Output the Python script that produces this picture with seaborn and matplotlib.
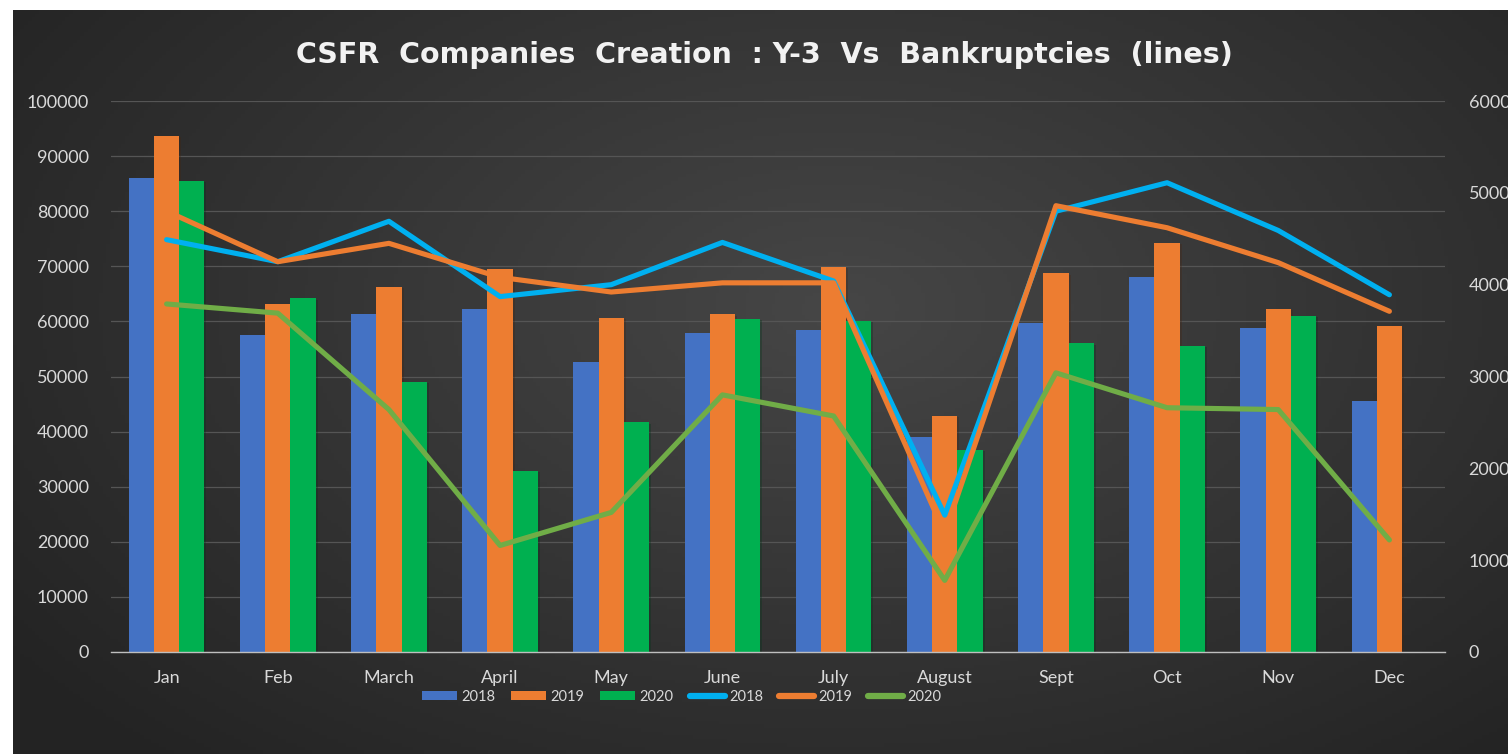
import numpy as np
import pandas as pd
import matplotlib
matplotlib.use('Agg')
import matplotlib.pyplot as plt
import matplotlib.patheffects as pe
from matplotlib.patches import Patch
from matplotlib.lines import Line2D
import seaborn as sns

# Month categories
months = ['Jan', 'Feb', 'March', 'April', 'May', 'June', 'July', 'August', 'Sept', 'Oct', 'Nov', 'Dec']
years = ['2018', '2019', '2020']

# Companies creation (bars, left axis)
creation_2018 = [86000, 57500, 61300, 62300, 52700, 57900, 58400, 39100, 59800, 68100, 58800, 45500]
creation_2019 = [93700, 63200, 66300, 69500, 60600, 61300, 69900, 42900, 68700, 74300, 62300, 59100]
creation_2020 = [85500, 64200, 49000, 32900, 41700, 60500, 60100, 36700, 56000, 55600, 61000, np.nan]

# Bankruptcies (lines, right axis)
bankrupt_2018 = [4490, 4250, 4690, 3870, 4000, 4460, 4040, 1490, 4800, 5110, 4590, 3890]
bankrupt_2019 = [4800, 4250, 4450, 4080, 3920, 4020, 4020, 1290, 4860, 4620, 4240, 3710]
bankrupt_2020 = [3790, 3690, 2640, 1160, 1520, 2800, 2570, 780, 3040, 2660, 2640, 1220]

bar_colors = ['#4472C4', '#ED7D31', '#00B050']
line_colors = ['#00B0F0', '#ED7D31', '#70AD47']
text_color = '#D9D9D9'

# Build long dataframe for the bars
bars_df = pd.DataFrame({
    'Month': months * 3,
    'Year': [y for y in years for _ in months],
    'Companies': creation_2018 + creation_2019 + creation_2020,
})

plt.rcParams['font.family'] = ['Lato', 'DejaVu Sans']

fig = plt.figure(figsize=(15.08, 7.54), dpi=100, facecolor='white')

# Dark radial gradient background (leaves a thin white strip on the left and top)
bg = fig.add_axes([13 / 1508, 0, 1 - 13 / 1508, 744 / 754], zorder=-10)
gx, gy = np.meshgrid(np.linspace(0, 1, 400), np.linspace(0, 1, 200))
dist = np.sqrt(((gx - 0.55) / 0.75) ** 2 + ((gy - 0.4) / 0.9) ** 2)
shade = np.clip(0.275 - 0.15 * dist, 0.14, 0.275)
bg.imshow(np.dstack([shade] * 3), aspect='auto', extent=[0, 1, 0, 1], origin='upper')
bg.axis('off')

ax = fig.add_axes([111 / 1508, 102 / 754, 1334 / 1508, 551 / 754])
ax.set_facecolor('none')

sns.barplot(data=bars_df, x='Month', y='Companies', hue='Year', palette=bar_colors,
            width=0.68, gap=0, saturation=1, legend=False, ax=ax, zorder=3)
for p in ax.patches:
    p.set_path_effects([pe.SimplePatchShadow(offset=(1.5, -1), alpha=0.3), pe.Normal()])

ax.set_ylim(0, 100000)
ax.set_yticks(np.arange(0, 100001, 10000))
ax.set_xlim(-0.5, 11.5)
ax.set_xlabel('')
ax.set_ylabel('')
ax.grid(axis='y', color='#555555', linewidth=0.9, zorder=0)
ax.set_axisbelow(True)
for s in ['top', 'left', 'right']:
    ax.spines[s].set_visible(False)
ax.spines['bottom'].set_color('#BFBFBF')
ax.spines['bottom'].set_linewidth(1.0)
ax.spines['bottom'].set_zorder(5)
ax.tick_params(axis='both', length=0, colors=text_color, labelsize=13)
ax.tick_params(axis='y', pad=16)
ax.tick_params(axis='x', pad=13)

# Lines on secondary axis
ax2 = ax.twinx()
ax2.set_facecolor('none')
positions = np.arange(len(months))
for vals, col in zip([bankrupt_2018, bankrupt_2019, bankrupt_2020], line_colors):
    sns.lineplot(x=positions, y=vals, color=col, linewidth=3.7, ax=ax2)
for l in ax2.lines:
    l.set_solid_capstyle('round')
    l.set_solid_joinstyle('round')
ax2.set_ylim(0, 6000)
ax2.set_yticks(np.arange(0, 6001, 1000))
ax2.set_xlim(-0.5, 11.5)
ax2.set_ylabel('')
for s in ax2.spines.values():
    s.set_visible(False)
ax2.tick_params(axis='y', length=0, colors=text_color, labelsize=13, pad=17)

# Title
fig.text(0.507, 0.927, 'CSFR  Companies  Creation  : Y-3  Vs  Bankruptcies  (lines)',
         ha='center', va='center', color='#F2F2F2', fontsize=20.5, fontweight='bold',
         family=['DejaVu Sans'])

# Legend
handles = [Patch(facecolor=c, edgecolor='none') for c in bar_colors] + \
          [Line2D([0], [0], color=c, linewidth=4.5, solid_capstyle='round') for c in line_colors]
labels = years + years
leg = fig.legend(handles, labels, loc='center', bbox_to_anchor=(0.452, 0.076), ncol=6,
                 frameon=False, fontsize=10.5, handlelength=2.4, handleheight=0.6,
                 handletextpad=0.3, columnspacing=1.1)
for t in leg.get_texts():
    t.set_color(text_color)

fig.savefig('out.png', dpi=100, facecolor='white')
